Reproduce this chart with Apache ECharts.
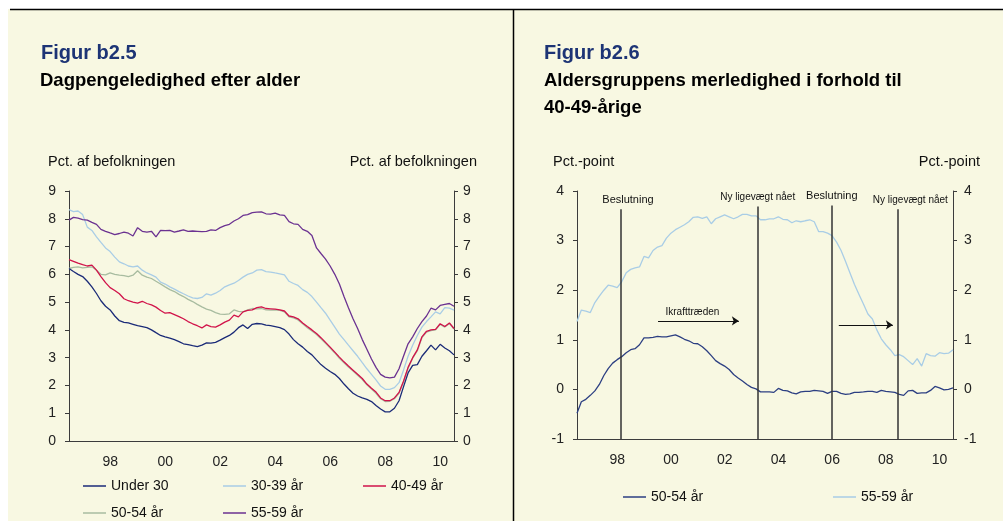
<!DOCTYPE html>
<html><head><meta charset="utf-8">
<script src="https://cdn.jsdelivr.net/npm/echarts@6/dist/echarts.min.js"></script>
<style>html,body{margin:0;padding:0;background:#fff}#c{width:1003px;height:521px}</style>
</head><body><div id="c"></div>
<script>
// ---------- data ----------
const yearLabels = ['97','98','99','00','01','02','03','04','05','06','07','08','09','10'];
const leftTicksY = [0,9];
const rightTicksY = [-1,4];

// Left panel: Dagpengeledighed efter alder (pct. af befolkningen), bi-monthly 1997-01 .. 2011-01
const under30 = [
 6.21,6.10,6.00,5.92,5.75,5.55,
 5.31,5.05,4.85,4.72,4.50,4.33,
 4.27,4.25,4.20,4.15,4.12,4.08,
 4.00,3.90,3.80,3.75,3.70,3.65,
 3.58,3.50,3.47,3.43,3.40,3.45,
 3.53,3.52,3.55,3.63,3.72,3.80,
 3.92,4.08,4.18,4.05,4.20,4.23,
 4.22,4.17,4.15,4.12,4.08,4.01,
 3.85,3.65,3.50,3.38,3.22,3.10,
 2.92,2.75,2.62,2.50,2.40,2.25,
 2.05,1.88,1.72,1.62,1.55,1.50,
 1.42,1.28,1.15,1.05,1.05,1.18,
 1.45,1.95,2.45,2.72,2.75,3.05,
 3.25,3.45,3.28,3.48,3.35,3.25,
 3.10];
const age3039 = [
 8.33,8.26,8.28,8.15,7.70,7.58,
 7.35,7.15,6.95,6.82,6.62,6.45,
 6.38,6.30,6.27,6.30,6.15,6.05,
 5.98,5.90,5.72,5.65,5.55,5.47,
 5.38,5.30,5.22,5.15,5.13,5.17,
 5.30,5.25,5.32,5.42,5.55,5.62,
 5.68,5.78,5.90,6.00,6.05,6.15,
 6.17,6.10,6.08,6.05,6.02,5.98,
 5.75,5.67,5.60,5.45,5.35,5.20,
 5.00,4.80,4.60,4.35,4.10,3.85,
 3.65,3.45,3.25,3.05,2.82,2.60,
 2.40,2.20,1.98,1.86,1.86,1.92,
 2.10,2.55,3.05,3.45,3.80,4.10,
 4.30,4.47,4.65,4.58,4.80,4.78,
 4.71];
const age4049 = [
 6.53,6.47,6.40,6.35,6.30,6.33,
 6.15,5.92,5.70,5.52,5.42,5.30,
 5.12,5.05,5.00,4.96,5.03,4.95,
 4.90,4.82,4.70,4.60,4.62,4.55,
 4.48,4.40,4.30,4.22,4.15,4.07,
 4.18,4.12,4.10,4.18,4.28,4.35,
 4.53,4.47,4.65,4.70,4.72,4.80,
 4.83,4.77,4.76,4.75,4.72,4.68,
 4.50,4.47,4.40,4.25,4.12,4.00,
 3.87,3.72,3.55,3.38,3.20,3.02,
 2.85,2.70,2.55,2.40,2.25,2.05,
 1.90,1.76,1.55,1.45,1.45,1.55,
 1.75,2.15,2.65,3.00,3.28,3.75,
 3.95,4.00,4.02,4.22,4.12,4.25,
 4.05];
const age5054 = [
 6.21,6.25,6.27,6.23,6.25,6.27,
 6.15,6.00,5.98,6.05,6.00,5.97,
 5.95,5.92,5.97,6.13,5.97,5.90,
 5.85,5.75,5.65,5.55,5.45,5.38,
 5.28,5.20,5.10,5.02,4.92,4.83,
 4.75,4.70,4.62,4.57,4.56,4.58,
 4.72,4.67,4.65,4.72,4.77,4.76,
 4.77,4.72,4.71,4.72,4.70,4.65,
 4.47,4.43,4.36,4.22,4.08,3.96,
 3.83,3.68,3.52,3.35,3.17,2.98,
 2.82,2.66,2.52,2.37,2.21,2.02,
 1.87,1.72,1.52,1.42,1.43,1.52,
 1.72,2.12,2.62,2.98,3.25,3.72,
 3.92,3.97,4.00,4.20,4.10,4.23,
 4.03];
const age5559 = [
 7.95,8.05,8.02,7.97,7.95,7.87,
 7.80,7.62,7.55,7.49,7.43,7.47,
 7.52,7.48,7.38,7.68,7.55,7.52,
 7.55,7.35,7.58,7.57,7.58,7.52,
 7.56,7.60,7.55,7.56,7.55,7.54,
 7.55,7.60,7.58,7.68,7.75,7.80,
 7.92,8.00,8.12,8.15,8.22,8.24,
 8.25,8.18,8.17,8.20,8.14,8.12,
 7.90,7.82,7.80,7.62,7.55,7.40,
 6.95,6.75,6.55,6.30,6.00,5.65,
 5.20,4.80,4.40,4.05,3.65,3.30,
 2.95,2.65,2.40,2.30,2.27,2.30,
 2.60,3.05,3.50,3.75,4.05,4.30,
 4.50,4.78,4.72,4.88,4.92,4.95,
 4.85];

// Right panel: merledighed i forhold til 40-49-årige (pct.-point)
const diff5054 = [
 -0.48,-0.25,-0.20,-0.12,-0.03,0.10,
 0.28,0.42,0.53,0.60,0.66,0.74,
 0.80,0.82,0.90,1.04,1.04,1.05,
 1.07,1.06,1.06,1.08,1.10,1.06,
 1.01,0.98,0.93,0.92,0.86,0.78,
 0.68,0.58,0.52,0.47,0.40,0.30,
 0.23,0.17,0.10,0.04,0.01,-0.05,
 -0.05,-0.05,-0.06,0.02,-0.02,-0.03,
 -0.07,-0.09,-0.05,-0.04,-0.04,-0.02,
 -0.03,-0.04,-0.08,-0.04,-0.04,-0.08,
 -0.10,-0.09,-0.06,-0.06,-0.05,-0.04,
 -0.04,-0.06,-0.02,-0.04,-0.05,-0.06,
 -0.10,-0.12,-0.03,-0.02,-0.08,-0.07,
 -0.07,-0.02,0.06,0.03,-0.01,0.00,
 0.03];
const diff5559 = [
 1.37,1.60,1.58,1.55,1.75,1.88,
 2.00,2.10,2.08,2.05,2.17,2.35,
 2.42,2.45,2.47,2.68,2.65,2.80,
 2.87,2.90,3.05,3.15,3.22,3.27,
 3.32,3.38,3.47,3.48,3.45,3.48,
 3.34,3.44,3.48,3.52,3.48,3.44,
 3.48,3.53,3.53,3.50,3.50,3.42,
 3.42,3.44,3.44,3.48,3.43,3.42,
 3.36,3.40,3.38,3.40,3.42,3.38,
 3.18,3.18,3.15,3.10,2.97,2.80,
 2.58,2.35,2.12,1.92,1.72,1.52,
 1.42,1.20,1.02,0.90,0.80,0.68,
 0.70,0.66,0.58,0.50,0.62,0.47,
 0.72,0.68,0.67,0.74,0.72,0.73,
 0.80];

const eventNames = ['Beslutning','Ny ligevægt nået','Beslutning','Ny ligevægt nået'];
const eventDates = ['1998-08-22','2003-09-24','2006-06-28','2008-12-05'];
const eventTops  = [3.63, 3.69, 3.71, 3.63];
const arrowNames = ['Ikrafttræden',''];
const arrowFrom  = ['2000-01-08','2006-10-01'];
const arrowTo    = ['2003-01-11','2008-10-05'];
const arrowLevel = [1.38, 1.30];

// month categories (bi-monthly)
const dates = [];
for (let y = 1997; y <= 2010; y++) for (const m of ['01','03','05','07','09','11']) dates.push(y + '-' + m + '-01');
dates.push('2011-01-01');
const pairs = vals => vals.map((v, i) => [dates[i], v]);

// ---------- styling ----------
const FF = '"Liberation Sans", Arial, sans-serif';
const AX = '#3c3c3c';
const C = {u30:'#1b2b78', a30:'#a9cde6', a40:'#d1134a', a50:'#a8bca0', a55:'#6b3291', r50:'#2c3f82', r55:'#a9cde6'};

function catX(gi){
  return {type:'category', gridIndex:gi, data:yearLabels, boundaryGap:true, position:'bottom',
    axisLine:{onZero:false, lineStyle:{color:AX, width:1}},
    axisTick:{interval:0, length:4, lineStyle:{color:AX}},
    axisLabel:{interval:(i)=> i % 2 === 1, fontSize:14, color:'#222', margin:14, fontFamily:FF},
    splitLine:{show:false}};
}
function timeX(gi){
  return {type:'time', gridIndex:gi, min:'1997-01-01', max:'2011-01-01', show:false};
}
function valY(gi, pos, range, margin){
  return {type:'value', gridIndex:gi, position:pos, min:range[0], max:range[1], interval:1,
    splitLine:{show:false},
    axisLine:{show:true, onZero:false, lineStyle:{color:AX, width:1}},
    axisTick:{show:true, length:4, lineStyle:{color:AX}},
    axisLabel:{fontSize:14, color:'#222', margin, fontFamily:FF}};
}
function line(name, vals, color, xi, yi, z){
  return {type:'line', name, data:pairs(vals), xAxisIndex:xi, yAxisIndex:yi, showSymbol:false, symbol:'none',
    lineStyle:{color, width:1.3}, itemStyle:{color}, emphasis:{disabled:true}, z:z||2, animation:false};
}
function leg(name, color, left, top){
  return {data:[{name, itemStyle:{color}}], left, top, padding:0, itemGap:0, icon:'rect',
    itemWidth:23, itemHeight:1.5, selectedMode:false,
    textStyle:{fontSize:14, color:'#111', fontFamily:FF}};
}

const labelDx = [7, 0, 0, 13];
const eventLines = eventNames.map((n, i) => [
  {coord:[eventDates[i], rightTicksY[0]], name:n,
   label:{show:true, position:'end', formatter:n, fontSize: n === 'Beslutning' ? 11 : 10, color:'#111', fontFamily:FF, distance:4, offset:[labelDx[i],0]}},
  {coord:[eventDates[i], eventTops[i]]}
]);
const arrowLines = arrowFrom.map((f, i) => [
  {coord:[f, arrowLevel[i]], symbol:'none',
   label:{show: arrowNames[i] !== '', position:'insideMiddleTop', formatter:arrowNames[i], fontSize:10, color:'#111', fontFamily:FF, distance:4, offset:[-6,0]}},
  {coord:[arrowTo[i], arrowLevel[i]], symbol:'arrow'}
]);

const txt = (text, x, y, font, fill, align) => ({type:'text', x, y, silent:true,
  style:{text, font, fill, textAlign:align||'left', textVerticalAlign:'middle'}});

const option = {
  backgroundColor:'#f8f8e2',
  animation:false,
  textStyle:{fontFamily:FF},
  grid:[
    {left:69, top:191, width:385, height:250},
    {left:577, top:191, width:376, height:248}
  ],
  xAxis:[catX(0), timeX(0), catX(1), timeX(1)],
  yAxis:[
    valY(0,'left',leftTicksY,13), valY(0,'right',leftTicksY,9),
    valY(1,'left',rightTicksY,13), valY(1,'right',rightTicksY,11)
  ],
  legend:[
    leg('Under 30', C.u30, 83, 479),
    leg('30-39 år', C.a30, 223, 479),
    leg('40-49 år', C.a40, 363, 479),
    leg('50-54 år', C.a50, 83, 506),
    leg('55-59 år', C.a55, 223, 506),
    leg('50-54 år', C.r50, 623, 490),
    leg('55-59 år', C.r55, 833, 490)
  ],
  series:[
    line('50-54 år', age5054, C.a50, 1, 0),
    line('Under 30', under30, C.u30, 1, 0),
    line('30-39 år', age3039, C.a30, 1, 0),
    line('40-49 år', age4049, C.a40, 1, 0, 3),
    line('55-59 år', age5559, C.a55, 1, 0),
    line('50-54 år', diff5054, C.r50, 3, 2),
    line('55-59 år', diff5559, C.r55, 3, 2),
    {type:'line', name:'events', data:[], xAxisIndex:3, yAxisIndex:2, z:5,
     markLine:{silent:true, animation:false, symbol:['none','none'],
       lineStyle:{color:'#333', width:1.5, type:'solid'}, emphasis:{disabled:true},
       data:eventLines}},
    {type:'line', name:'arrows', data:[], xAxisIndex:3, yAxisIndex:2, z:5,
     markLine:{silent:true, animation:false, symbol:['none','arrow'], symbolSize:7,
       lineStyle:{color:'#111', width:1.2, type:'solid'}, emphasis:{disabled:true},
       data:arrowLines}}
  ],
  graphic:[
    {type:'rect', shape:{x:0,y:0,width:1003,height:9}, style:{fill:'#ffffff'}, silent:true},
    {type:'rect', shape:{x:0,y:0,width:8,height:521}, style:{fill:'#ffffff'}, silent:true},
    {type:'line', shape:{x1:10,y1:9.5,x2:1003,y2:9.5}, style:{stroke:'#000', lineWidth:1.5}, silent:true},
    {type:'line', shape:{x1:513.5,y1:9,x2:513.5,y2:521}, style:{stroke:'#000', lineWidth:1.5}, silent:true},
    txt('Figur b2.5', 41, 53, 'bold 20px ' + FF, '#1d3475'),
    txt('Dagpengeledighed efter alder', 40, 81, 'bold 18.5px ' + FF, '#000'),
    txt('Pct. af befolkningen', 48, 162, '14.5px ' + FF, '#111'),
    txt('Pct. af befolkningen', 477, 162, '14.5px ' + FF, '#111', 'right'),
    txt('Figur b2.6', 544, 53, 'bold 20px ' + FF, '#1d3475'),
    txt('Aldersgruppens merledighed i forhold til', 544, 81, 'bold 18.5px ' + FF, '#000'),
    txt('40-49-årige', 544, 108, 'bold 18.5px ' + FF, '#000'),
    txt('Pct.-point', 553, 162, '14.5px ' + FF, '#111'),
    txt('Pct.-point', 980, 162, '14.5px ' + FF, '#111', 'right')
  ]
};
const chart = echarts.init(document.getElementById('c'), null, {renderer:'canvas'});
chart.setOption(option);
</script></body></html>
